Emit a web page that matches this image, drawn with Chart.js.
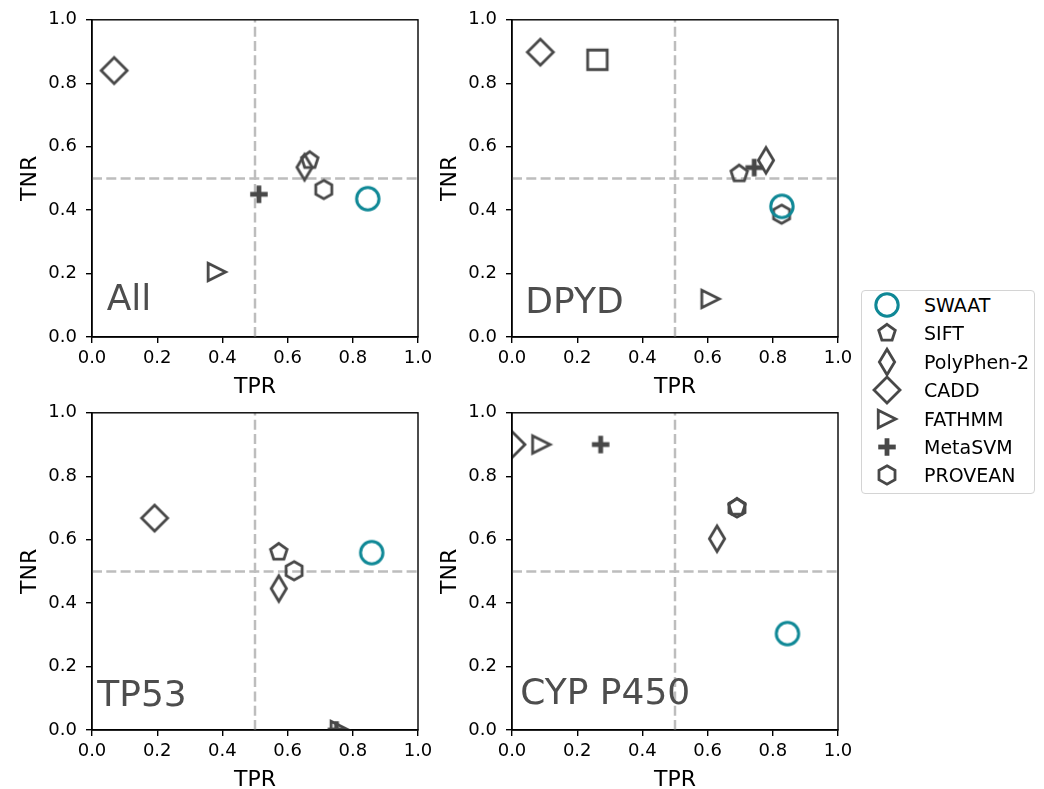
<!DOCTYPE html>
<html>
<head>
<meta charset="utf-8">
<title>TPR vs TNR</title>
<script src="https://cdn.jsdelivr.net/npm/chart.js"></script>
<style>
    body { margin: 0; background: #fff; font-family: 'DejaVu Sans', sans-serif; }
    #page { position: relative; width: 1044px; height: 789px; }
    #page canvas.panel { position: absolute; }
    #legend {
        position: absolute; left: 861px; top: 290px; width: 174px; height: 204px;
        border: 1px solid #d4d4d4; border-radius: 4px; box-sizing: border-box;
    }
    .legItem { position: absolute; font-size: 19px; line-height: 22px; color: #000; white-space: nowrap; }
    .legMark { position: absolute; }
</style>
</head>
<body>
<div id="page">
    <canvas class="panel" id="c0" width="440" height="400" style="left:0px;top:0px"></canvas>
    <canvas class="panel" id="c1" width="440" height="400" style="left:420px;top:0px"></canvas>
    <canvas class="panel" id="c2" width="440" height="400" style="left:0px;top:393px"></canvas>
    <canvas class="panel" id="c3" width="440" height="400" style="left:420px;top:393px"></canvas>
    <div id="legend"></div>
</div>
<script>
    // methods, in legend order
    const methods = ['SWAAT', 'SIFT', 'PolyPhen-2', 'CADD', 'FATHMM', 'MetaSVM', 'PROVEAN'];
    const markerKinds = ['circle', 'pentagon', 'thinDiamond', 'diamond', 'triangleRight', 'plus', 'hexagon'];

    const panelNames = ['All', 'DPYD', 'TP53', 'CYP P450'];
    // where the panel name sits, in data units (x, y)
    const panelLabelX = [0.045, 0.041, 0.016, 0.025];
    const panelLabelY = [0.085, 0.075, 0.076, 0.081];

    // TPR / TNR per method (legend order) for each panel
    const allTPR = [0.846, 0.668, 0.652, 0.068, 0.383, 0.512, 0.711];
    const allTNR = [0.436, 0.557, 0.535, 0.840, 0.205, 0.450, 0.465];

    const dpydTPR = [0.828, 0.697, 0.779, 0.087, 0.609, 0.743, 0.827];
    const dpydTNR = [0.412, 0.515, 0.557, 0.898, 0.120, 0.534, 0.387];

    const tp53TPR = [0.858, 0.573, 0.573, 0.192, 0.760, 0.750, 0.620];
    const tp53TNR = [0.559, 0.561, 0.446, 0.668, 0.000, 0.000, 0.502];

    const cypTPR = [0.845, 0.690, 0.629, 0.000, 0.090, 0.272, 0.690];
    const cypTNR = [0.304, 0.703, 0.603, 0.900, 0.900, 0.900, 0.700];

    // one extra square marker in DPYD that has no legend entry
    const dpydExtraTPR = [0.262];
    const dpydExtraTNR = [0.874];

    const panelTPR = [allTPR, dpydTPR, tp53TPR, cypTPR];
    const panelTNR = [allTNR, dpydTNR, tp53TNR, cypTNR];

    const tickValues = [0, 0.2, 0.4, 0.6, 0.8, 1.0];
    const cutoff = 0.5;

    const TEAL = '#0f8896';
    const GRAY = '#484848';

    Chart.defaults.font.family = "'DejaVu Sans', sans-serif";
    Chart.defaults.color = '#000';

    function markerCanvas(kind) {
        const c = document.createElement('canvas');
        c.width = 34;
        c.height = 34;
        const g = c.getContext('2d');
        g.translate(17, 17);
        g.lineWidth = 2.8;
        g.strokeStyle = GRAY;
        g.fillStyle = GRAY;
        g.lineJoin = 'miter';
        g.beginPath();
        const poly = (n, r) => {
            for (let k = 0; k < n; k++) {
                const a = -Math.PI / 2 + k * 2 * Math.PI / n;
                if (k === 0) g.moveTo(r * Math.cos(a), r * Math.sin(a));
                else g.lineTo(r * Math.cos(a), r * Math.sin(a));
            }
            g.closePath();
        };
        if (kind === 'circle') {
            g.strokeStyle = TEAL;
            g.lineWidth = 3;
            g.arc(0, 0, 11.2, 0, 2 * Math.PI);
        } else if (kind === 'pentagon') {
            poly(5, 8.7);
        } else if (kind === 'hexagon') {
            poly(6, 9.25);
        } else if (kind === 'diamond') {
            g.moveTo(0, -13); g.lineTo(13, 0); g.lineTo(0, 13); g.lineTo(-13, 0); g.closePath();
        } else if (kind === 'thinDiamond') {
            g.moveTo(0, -12.75); g.lineTo(7.65, 0); g.lineTo(0, 12.75); g.lineTo(-7.65, 0); g.closePath();
        } else if (kind === 'triangleRight') {
            g.moveTo(8.75, 0); g.lineTo(-8.75, -8.75); g.lineTo(-8.75, 8.75); g.closePath();
        } else if (kind === 'square') {
            g.rect(-9.75, -9.75, 19.5, 19.5);
        } else if (kind === 'plus') {
            g.fillRect(-8.75, -2.4, 17.5, 4.8);
            g.fillRect(-2.4, -8.75, 4.8, 17.5);
            return c;
        }
        g.stroke();
        return c;
    }

    const markers = markerKinds.map(markerCanvas);
    const squareMarker = markerCanvas('square');

    const frame = {
        id: 'frame',
        afterDraw(chart) {
            const a = chart.chartArea;
            const ctx = chart.ctx;
            ctx.save();
            ctx.strokeStyle = '#000';
            ctx.lineWidth = 1.4;
            ctx.strokeRect(a.left, a.top, a.right - a.left, a.bottom - a.top);
            ctx.restore();
        }
    };

    const panelLabel = {
        id: 'panelLabel',
        afterDatasetsDraw(chart, args, opts) {
            const ctx = chart.ctx;
            ctx.save();
            ctx.font = "36px 'DejaVu Sans'";
            ctx.fillStyle = '#4d4d4d';
            ctx.textBaseline = 'alphabetic';
            ctx.textAlign = 'left';
            ctx.fillText(opts.text, chart.scales.x.getPixelForValue(opts.x), chart.scales.y.getPixelForValue(opts.y));
            ctx.restore();
        }
    };

    function cutoffLines() {
        const style = {
            type: 'line', borderColor: '#bdbdbd', borderWidth: 2.5, borderDash: [10, 4.3],
            pointRadius: 0, fill: false, order: 10
        };
        return [
            Object.assign({data: [{x: cutoff, y: 0}, {x: cutoff, y: 1}]}, style),
            Object.assign({data: [{x: 0, y: cutoff}, {x: 1, y: cutoff}]}, style)
        ];
    }

    function makePanel(p) {
        const datasets = methods.map((m, i) => ({
            label: m,
            data: [{x: panelTPR[p][i], y: panelTNR[p][i]}],
            pointStyle: markers[i],
            pointRadius: 10,
            clip: 0,
            order: 1
        }));
        if (p === 1) {
            datasets.push({
                label: 'other',
                data: dpydExtraTPR.map((x, k) => ({x: x, y: dpydExtraTNR[k]})),
                pointStyle: squareMarker,
                pointRadius: 10,
                clip: 0,
                order: 1
            });
        }
        cutoffLines().forEach(d => datasets.push(d));

        const axisCommon = {
            type: 'linear', min: 0, max: 1,
            grid: {drawOnChartArea: false, drawTicks: true, tickLength: 6, color: '#000', lineWidth: 1.4},
            border: {display: true, color: '#000', width: 1.4}
        };

        new Chart(document.getElementById('c' + p), {
            type: 'scatter',
            data: {datasets: datasets},
            options: {
                responsive: false,
                animation: false,
                events: [],
                layout: {padding: {left: 0, top: 18, right: 22, bottom: 0}},
                plugins: {
                    legend: {display: false},
                    tooltip: {enabled: false},
                    panelLabel: {text: panelNames[p], x: panelLabelX[p], y: panelLabelY[p]}
                },
                scales: {
                    x: Object.assign({}, axisCommon, {
                        afterBuildTicks: s => { s.ticks = tickValues.map(v => ({value: v})); },
                        ticks: {callback: v => v.toFixed(1), font: {size: 18}, color: '#000', padding: 5, maxRotation: 0, autoSkip: false},
                        title: {display: true, text: 'TPR', font: {size: 22}, color: '#000', padding: {top: 0, bottom: 0}},
                        afterFit: s => { s.height = 63; }
                    }),
                    y: Object.assign({}, axisCommon, {
                        afterBuildTicks: s => { s.ticks = tickValues.map(v => ({value: v})); },
                        ticks: {callback: v => v.toFixed(1), font: {size: 18}, color: '#000', padding: 9, autoSkip: false},
                        title: {display: true, text: 'TNR', font: {size: 22}, color: '#000', padding: {top: 17, bottom: 0}},
                        afterFit: s => { s.width = 92; }
                    })
                }
            },
            plugins: [frame, panelLabel]
        });
    }

    panelNames.forEach((n, p) => makePanel(p));

    // legend
    const page = document.getElementById('page');
    methods.forEach((m, i) => {
        const rowY = 305 + i * 28.4;
        const mk = markerCanvas(markerKinds[i]);
        mk.className = 'legMark';
        mk.style.left = (887 - 17) + 'px';
        mk.style.top = (rowY - 17) + 'px';
        page.appendChild(mk);
        const t = document.createElement('div');
        t.className = 'legItem';
        t.textContent = m;
        t.style.left = '924px';
        t.style.top = (rowY - 11) + 'px';
        page.appendChild(t);
    });
</script>
</body>
</html>
